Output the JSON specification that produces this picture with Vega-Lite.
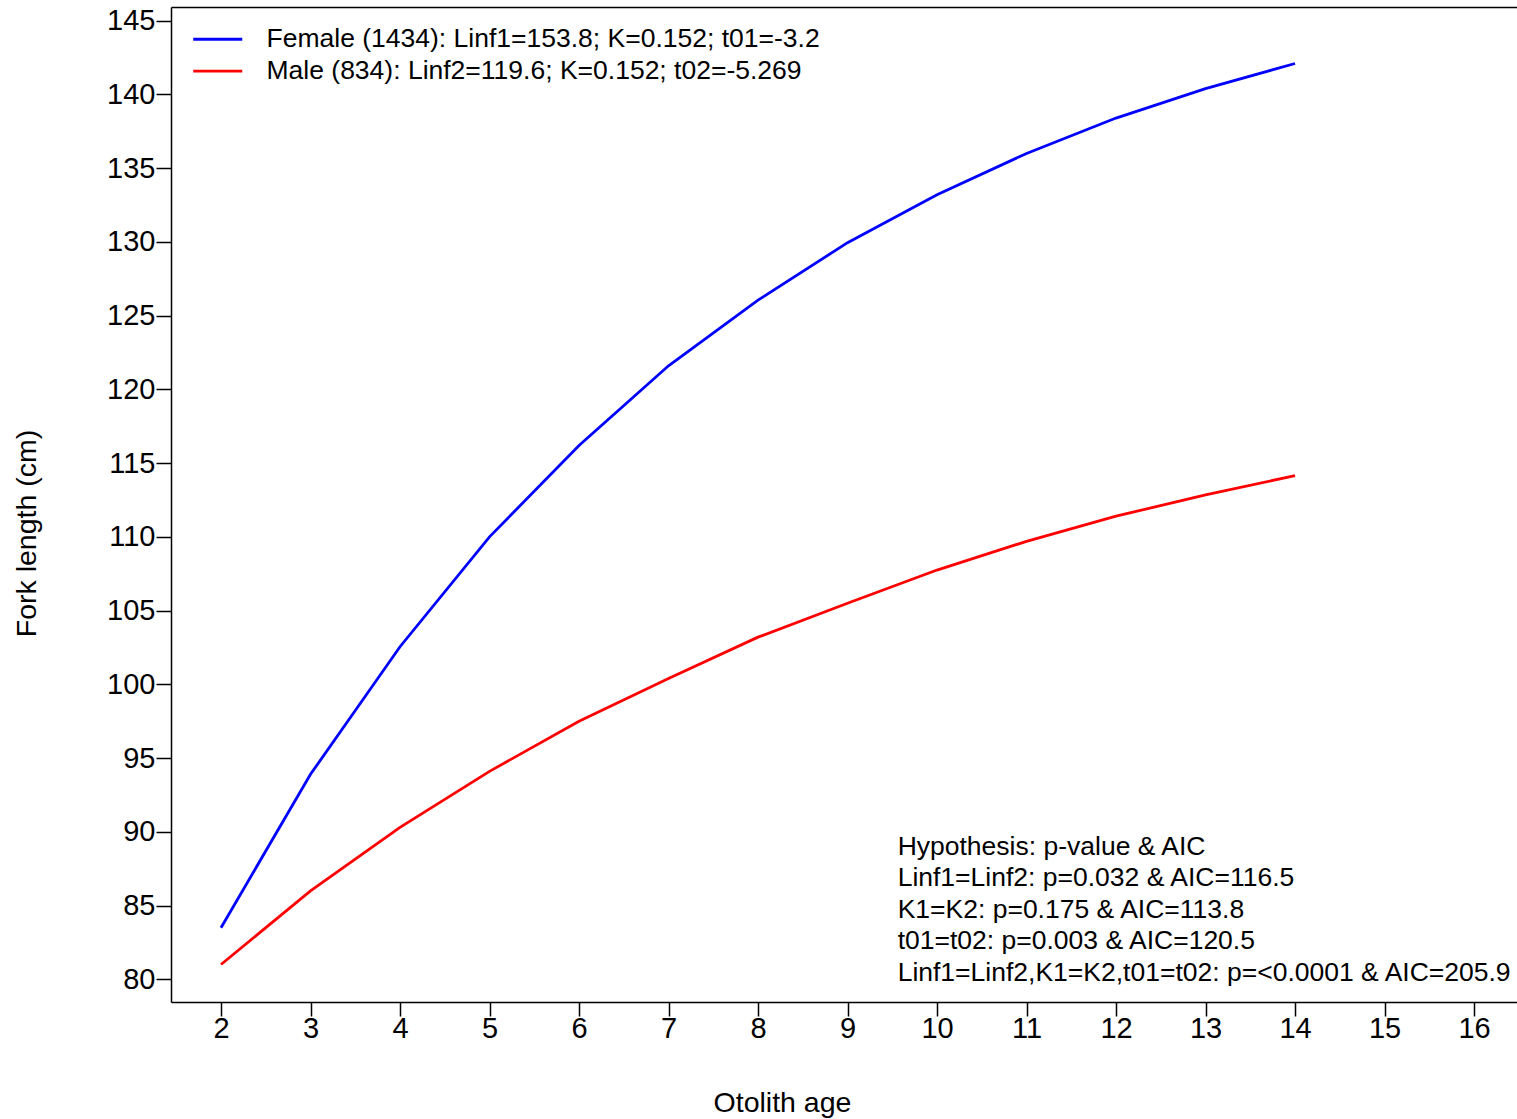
{
  "$schema": "https://vega.github.io/schema/vega-lite/v6.json",
  "description": "Von Bertalanffy growth curves of fork length against otolith age, by sex.",
  "autosize": {"type": "none"},
  "width": 1346,
  "height": 995,
  "padding": {"left": 171, "top": 7, "right": 0, "bottom": 117},
  "background": "white",
  "config": {
    "font": "Liberation Sans",
    "view": {"stroke": null},
    "axis": {
      "grid": false,
      "domainColor": "black",
      "domainWidth": 1.5,
      "tickColor": "black",
      "tickWidth": 1.5,
      "labelFont": "Liberation Sans",
      "labelFontSize": 29,
      "labelColor": "black",
      "titleFont": "Liberation Sans",
      "titleFontSize": 28.5,
      "titleFontWeight": "normal",
      "titleColor": "black"
    },
    "legend": {
      "labelFont": "Liberation Sans",
      "labelFontSize": 26.5,
      "labelColor": "black"
    }
  },
  "data": {
    "values": [
      {"age": 2, "sex": "Female", "length": 83.5},
      {"age": 3, "sex": "Female", "length": 93.9},
      {"age": 4, "sex": "Female", "length": 102.55},
      {"age": 5, "sex": "Female", "length": 110.0},
      {"age": 6, "sex": "Female", "length": 116.2},
      {"age": 7, "sex": "Female", "length": 121.6},
      {"age": 8, "sex": "Female", "length": 126.05},
      {"age": 9, "sex": "Female", "length": 129.95},
      {"age": 10, "sex": "Female", "length": 133.2},
      {"age": 11, "sex": "Female", "length": 136.0},
      {"age": 12, "sex": "Female", "length": 138.4},
      {"age": 13, "sex": "Female", "length": 140.4},
      {"age": 14, "sex": "Female", "length": 142.1},
      {"age": 2, "sex": "Male", "length": 81.0},
      {"age": 3, "sex": "Male", "length": 86.0},
      {"age": 4, "sex": "Male", "length": 90.3},
      {"age": 5, "sex": "Male", "length": 94.1},
      {"age": 6, "sex": "Male", "length": 97.5},
      {"age": 7, "sex": "Male", "length": 100.4},
      {"age": 8, "sex": "Male", "length": 103.2},
      {"age": 9, "sex": "Male", "length": 105.5},
      {"age": 10, "sex": "Male", "length": 107.75},
      {"age": 11, "sex": "Male", "length": 109.7},
      {"age": 12, "sex": "Male", "length": 111.4},
      {"age": 13, "sex": "Male", "length": 112.85},
      {"age": 14, "sex": "Male", "length": 114.15}
    ]
  },
  "layer": [
    {
      "mark": {"type": "line", "strokeWidth": 2.8, "clip": true},
      "encoding": {
        "x": {
          "field": "age",
          "type": "quantitative",
          "scale": {"domain": [1.4413, 16.48], "nice": false, "zero": false},
          "axis": {
            "orient": "bottom",
            "values": [2, 3, 4, 5, 6, 7, 8, 9, 10, 11, 12, 13, 14, 15, 16],
            "tickSize": 14,
            "labelPadding": -2,
            "title": "Otolith age",
            "titlePadding": 45,
            "titleX": 611,
            "titleAlign": "center",
            "titleAnchor": null
          }
        },
        "y": {
          "field": "length",
          "type": "quantitative",
          "scale": {"domain": [78.46, 145.93], "nice": false, "zero": false},
          "axis": {
            "values": [80, 85, 90, 95, 100, 105, 110, 115, 120, 125, 130, 135, 140, 145],
            "tickSize": 15,
            "labelPadding": 1,
            "title": "Fork length (cm)",
            "titlePadding": 65,
            "titleY": 526,
            "titleAlign": "center",
            "titleAnchor": null
          }
        },
        "color": {
          "field": "sex",
          "type": "nominal",
          "scale": {"domain": ["Female", "Male"], "range": ["#0000FF", "#FF0000"]},
          "legend": {
            "orient": "none",
            "legendX": 33.5,
            "legendY": 19,
            "title": null,
            "padding": 0,
            "symbolType": "M-3,0H3",
            "symbolSize": 266.8,
            "symbolStrokeWidth": 2.8,
            "labelOffset": 35.5,
            "labelLimit": 0,
            "rowPadding": 4.8,
            "labelExpr": "datum.value === 'Female' ? 'Female (1434): Linf1=153.8; K=0.152; t01=-3.2' : 'Male (834): Linf2=119.6; K=0.152; t02=-5.269'"
          }
        }
      }
    },
    {
      "data": {"values": [{"note": "hypothesis tests"}]},
      "mark": {
        "type": "text",
        "align": "left",
        "baseline": "alphabetic",
        "fontSize": 26.5,
        "lineHeight": 31.5,
        "color": "black",
        "font": "Liberation Sans"
      },
      "encoding": {
        "x": {
          "datum": 9.56,
          "type": "quantitative",
          "axis": {
            "orient": "top",
            "labels": false,
            "ticks": false,
            "title": null,
            "domain": true
          }
        },
        "y": {"datum": 88.46, "type": "quantitative"},
        "text": {
          "value": [
            "Hypothesis: p-value & AIC",
            "Linf1=Linf2: p=0.032 & AIC=116.5",
            "K1=K2: p=0.175 & AIC=113.8",
            "t01=t02: p=0.003 & AIC=120.5",
            "Linf1=Linf2,K1=K2,t01=t02: p=<0.0001 & AIC=205.9"
          ]
        }
      }
    }
  ],
  "resolve": {"axis": {"x": "independent"}}
}
